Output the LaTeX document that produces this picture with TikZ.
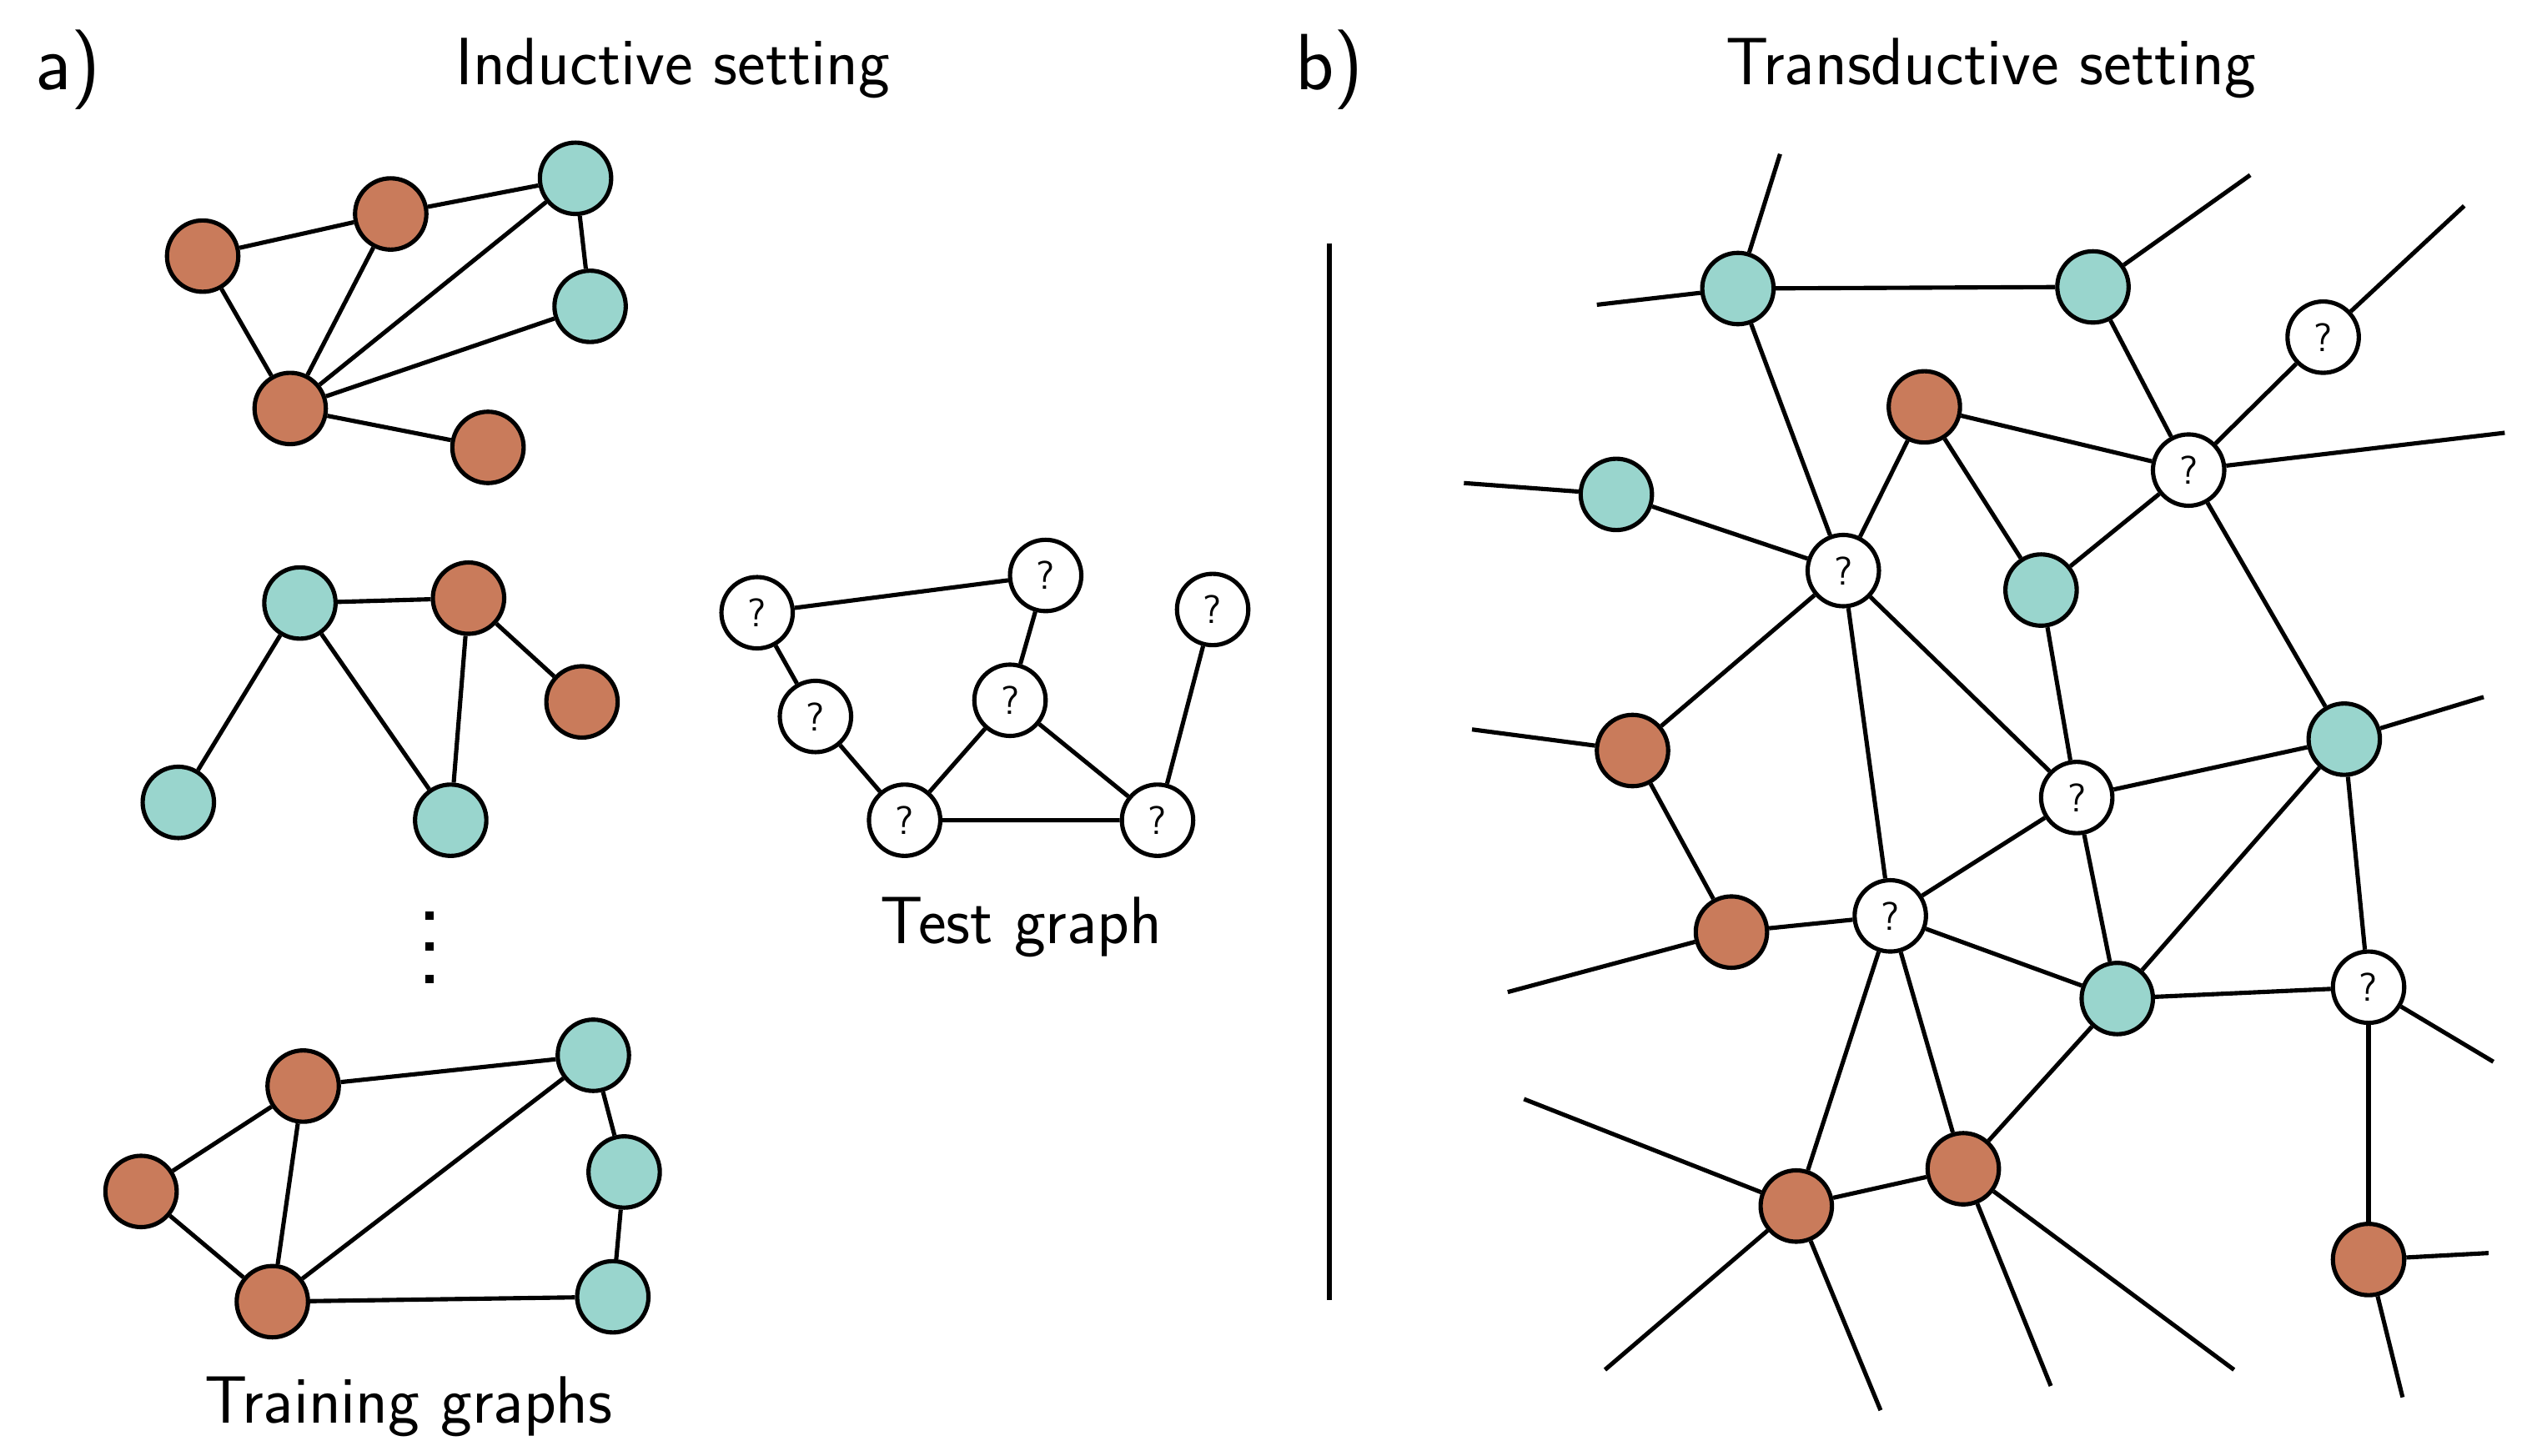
\documentclass[tikz,border=0pt]{standalone}
\usepackage{tikz}
\definecolor{rust}{HTML}{C97B5B}
\definecolor{mint}{HTML}{99D5CD}

\begin{document}
\begin{tikzpicture}[x=0.2mm, y=-0.2mm]
\tikzstyle{mydot} = [circle, draw, line width = 1.5pt, minimum size = 0.88cm, inner sep = 0 pt, font = \fontsize{14}{16}\sffamily]
\tikzstyle{rdot} = [mydot, fill = rust]
\tikzstyle{tdot} = [mydot, fill = mint]
\tikzstyle{qdot} = [mydot, fill = white]
\tikzstyle{sqdot} = [rectangle, fill, minimum size = 1mm, inner sep = 0 pt]
\tikzset{every path/.append style={line width = 1.5pt}, lbl/.style={font = \fontsize{23.5}{28}\sffamily}, tag/.style={font = \fontsize{28}{32}\sffamily}}
\useasboundingbox (0,0) rectangle (1568,898);

% titles
\node [tag] (la) at (42,43) {a)};
\node [lbl] (ti) at (415,42) {Inductive setting};
\node [tag] (lb) at (820,43) {b)};
\node [lbl] (tt) at (1228,42) {Transductive setting};
\node [lbl] (tr) at (252,868) {Training graphs};
\node [lbl] (te) at (630,572) {Test graph};

% training graph 1
\node [rdot] (a1) at (125,158) {};
\node [rdot] (a2) at (241,132) {};
\node [tdot] (a3) at (355,110) {};
\node [tdot] (a4) at (364,189) {};
\node [rdot] (a5) at (179,252) {};
\node [rdot] (a6) at (301,276) {};
\draw (a1) -- (a2) -- (a3) -- (a4) -- (a5) -- (a6);
\draw (a1) -- (a5) -- (a2);
\draw (a3) -- (a5);

% training graph 2
\node [tdot] (b1) at (185,372) {};
\node [rdot] (b2) at (289,369) {};
\node [rdot] (b3) at (359,433) {};
\node [tdot] (b4) at (110,495) {};
\node [tdot] (b5) at (278,506) {};
\draw (b4) -- (b1) -- (b2) -- (b3);
\draw (b1) -- (b5) -- (b2);

% more graphs
\foreach \i/\y in {1/565, 2/584, 3/604}
  \node [sqdot] (v\i) at (265,\y) {};

% training graph 3
\node [rdot] (c1) at (187,670) {};
\node [tdot] (c2) at (366,651) {};
\node [rdot] (c3) at (87,735) {};
\node [tdot] (c4) at (385,723) {};
\node [rdot] (c5) at (168,803) {};
\node [tdot] (c6) at (378,800) {};
\draw (c3) -- (c1) -- (c2) -- (c4) -- (c6) -- (c5) -- (c3);
\draw (c1) -- (c5) -- (c2);

% test graph
\node [qdot] (t1) at (467,378) {?};
\node [qdot] (t2) at (645,355) {?};
\node [qdot] (t3) at (748,376) {?};
\node [qdot] (t4) at (503,442) {?};
\node [qdot] (t5) at (623,432) {?};
\node [qdot] (t6) at (558,506) {?};
\node [qdot] (t7) at (714,506) {?};
\draw (t4) -- (t1) -- (t2) -- (t5) -- (t6) -- (t4);
\draw (t5) -- (t7) -- (t6);
\draw (t3) -- (t7);

% separator
\coordinate (s1) at (820,150);
\coordinate (s2) at (820,802);
\draw (s1) -- (s2);

% transductive graph
\node [tdot] (d1) at (1072,178) {};
\node [tdot] (d2) at (1291,177) {};
\node [qdot] (d3) at (1433,208) {?};
\node [rdot] (d4) at (1187,251) {};
\node [qdot] (d5) at (1350,290) {?};
\node [tdot] (d6) at (997,305) {};
\node [qdot] (d7) at (1137,352) {?};
\node [tdot] (d8) at (1259,364) {};
\node [tdot] (d9) at (1446,456) {};
\node [rdot] (d10) at (1007,463) {};
\node [qdot] (d11) at (1281,492) {?};
\node [qdot] (d12) at (1166,565) {?};
\node [rdot] (d13) at (1068,575) {};
\node [tdot] (d14) at (1306,616) {};
\node [qdot] (d15) at (1461,609) {?};
\node [rdot] (d16) at (1211,721) {};
\node [rdot] (d17) at (1108,744) {};
\node [rdot] (d18) at (1461,777) {};

% loose ends
\coordinate (e1) at (1098,95);
\coordinate (e2) at (985,188);
\coordinate (e3) at (1388,108);
\coordinate (e4) at (1520,127);
\coordinate (e5) at (1545,267);
\coordinate (e6) at (903,298);
\coordinate (e7) at (1532,430);
\coordinate (e8) at (908,450);
\coordinate (e9) at (930,612);
\coordinate (e10) at (1538,655);
\coordinate (e11) at (1265,855);
\coordinate (e12) at (1378,845);
\coordinate (e13) at (940,678);
\coordinate (e14) at (990,845);
\coordinate (e15) at (1160,870);
\coordinate (e16) at (1535,773);
\coordinate (e17) at (1482,862);

\draw (d1) -- (d2);
\draw (d1) -- (e1);
\draw (d1) -- (e2);
\draw (d2) -- (e3);
\draw (d1) -- (d7);
\draw (d2) -- (d5);
\draw (d3) -- (d5);
\draw (d3) -- (e4);
\draw (d4) -- (d5);
\draw (d4) -- (d7);
\draw (d4) -- (d8);
\draw (d5) -- (e5);
\draw (d5) -- (d8);
\draw (d5) -- (d9);
\draw (d6) -- (d7);
\draw (d6) -- (e6);
\draw (d7) -- (d10);
\draw (d7) -- (d11);
\draw (d7) -- (d12);
\draw (d8) -- (d11);
\draw (d9) -- (e7);
\draw (d9) -- (d11);
\draw (d9) -- (d14);
\draw (d9) -- (d15);
\draw (d10) -- (e8);
\draw (d10) -- (d13);
\draw (d11) -- (d12);
\draw (d11) -- (d14);
\draw (d12) -- (d13);
\draw (d12) -- (d14);
\draw (d12) -- (d16);
\draw (d12) -- (d17);
\draw (d13) -- (e9);
\draw (d14) -- (d15);
\draw (d14) -- (d16);
\draw (d15) -- (d18);
\draw (d15) -- (e10);
\draw (d16) -- (d17);
\draw (d16) -- (e11);
\draw (d16) -- (e12);
\draw (d17) -- (e13);
\draw (d17) -- (e14);
\draw (d17) -- (e15);
\draw (d18) -- (e16);
\draw (d18) -- (e17);
\end{tikzpicture}
\end{document}
